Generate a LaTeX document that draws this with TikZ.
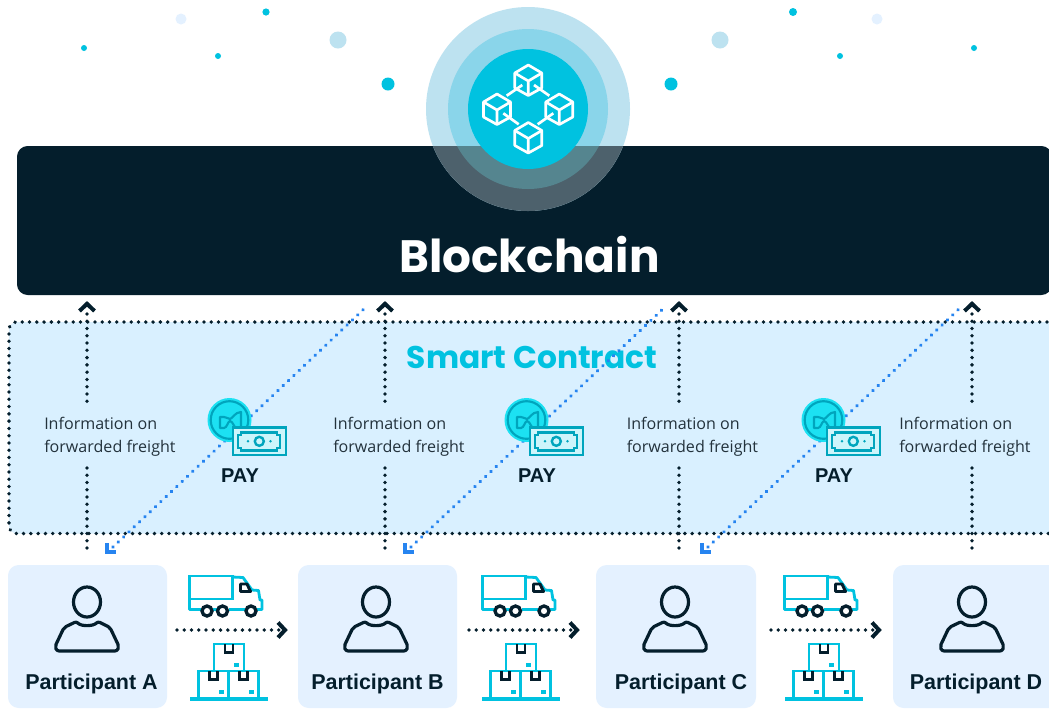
\documentclass[tikz,border=0pt]{standalone}
\usepackage{fontspec}
\setmainfont{Open Sans}
\setsansfont{Liberation Sans}
\newfontfamily\popf{Poppins}
\usetikzlibrary{calc,decorations.markings}
\definecolor{navy}{HTML}{041E2C}
\definecolor{cyanc}{HTML}{00C2E0}
\definecolor{pale}{HTML}{D9F0FF}
\definecolor{partbg}{HTML}{E4F1FF}
\definecolor{blued}{HTML}{2684F0}
\definecolor{tealc}{HTML}{00A5BD}
\definecolor{textc}{HTML}{23323C}
\definecolor{haloa}{HTML}{BDE2F0}
\definecolor{halob}{HTML}{8AD5EA}
\definecolor{haload}{HTML}{4D616C}
\definecolor{halobd}{HTML}{55858F}
\definecolor{payc}{HTML}{1CE1F2}
\definecolor{billc}{HTML}{CDF5FB}
\tikzset{
  x=0.75pt,y=-0.75pt,
  navydots/.style={decoration={markings,mark=between positions 0 and 1 step 5.45pt with {\fill[navy] (0,0) circle [radius=1.42pt];}},decorate},
  bluedots/.style={decoration={markings,mark=between positions 0 and 1 step 5.5pt with {\fill[blued] (0,0) circle [radius=1.42pt];}},decorate},
  chevron/.style={navy,line width=3pt,line join=miter},
  partbox/.style={fill=partbg,rounded corners=8pt,inner sep=0pt},
  partlabel/.style={font=\fontsize{16.1}{20}\selectfont\bfseries\sffamily,text=navy,inner sep=0pt},
  infolabel/.style={font=\fontsize{12.05}{17.2}\selectfont,text=textc,align=left,anchor=north west,inner sep=0pt},
  paylabel/.style={font=\fontsize{15}{18}\selectfont\bfseries\sffamily,text=navy,inner sep=0pt},
  cubeline/.style={white,line width=2pt,line join=round},
  cyanline/.style={cyanc,line width=2.1pt},
  darkline/.style={navy,line width=2.2pt},
}
\newcommand{\cube}[2]{%
  \begin{scope}[shift={(#1,#2)}]
    \draw[cubeline] (0,-15) -- (13.5,-7) -- (13.5,8) -- (0,15.5) -- (-13.5,8) -- (-13.5,-7) -- cycle;
    \draw[cubeline] (-13.5,-7) -- (0,1) -- (13.5,-7) (0,1) -- (0,15.5);
  \end{scope}}
\newcommand{\person}[1]{%
  \begin{scope}[shift={(#1,0)}]
    \draw[navy,line width=2.4pt] (0,602) ellipse (13.5 and 15);
    \draw[navy,line width=2.4pt,line join=round,rounded corners=1.6pt]
      (-10.5,621.5) .. controls (-6,626.5) and (6,626.5) .. (11,621.5)
      -- (23,627.5) -- (32,646.5) -- (30,651) -- (-30,651) -- (-32,646.5) -- (-23,627.5) -- cycle;
  \end{scope}}
\newcommand{\truck}[1]{%
  \begin{scope}[shift={(#1,0)}]
    \draw[cyanline] (189.5,576) rectangle (232.5,599);
    \draw[cyanline,line join=round] (232.5,577) -- (243,577.5) -- (252,590) -- (258.5,590.5) -- (260,600) -- (262,600) -- (262,609.5) -- (257,609.5)
      (245,609.5) -- (229,609.5) (217,609.5) -- (213,609.5) (201,609.5) -- (189.5,609.5) -- (189.5,599);
    \draw[darkline,line join=round] (240.5,584) -- (247,584) -- (250.5,591.5) -- (240.5,591.5) -- cycle;
    \foreach \wx in {207,222.5,251}{\draw[navy,line width=2.5pt] (\wx,611) circle (5);}
  \end{scope}}
\newcommand{\onebox}[2]{%
  \begin{scope}[shift={(#1,#2)}]
    \draw[cyanline] (0,0) rectangle (30,27);
    \draw[darkline] (11,0) -- (11,8.5) -- (19,8.5) -- (19,0);
    \fill[cyanc] (20,19) rectangle (25,23);
  \end{scope}}
\newcommand{\boxes}[1]{%
  \begin{scope}[shift={(#1,0)}]
    \onebox{214}{644}\onebox{198.5}{671}\onebox{228.7}{671}
    \fill[cyanc] (190,696.5) rectangle (268,701);
  \end{scope}}
\newcommand{\payicon}[1]{%
  \begin{scope}[shift={(#1,0)}]
    \fill[payc] (229.5,420) circle (22);
    \draw[tealc,line width=1.6pt] (229.5,420) circle (18.8);
    \draw[tealc,line width=1.6pt,line join=round] (220,417) -- (224,417) .. controls (227,417) and (228,419) .. (230,419)
       .. controls (232,419) and (235,412) .. (241,412) -- (241,430) -- (238,430) .. controls (235,430) and (233,421) .. (230,421) .. controls (228,421) and (227,428) .. (224,428) -- (220,428) -- cycle;
    \draw[tealc,line width=2.1pt,fill=billc] (233,427.5) rectangle (286,455);
    \draw[tealc,line width=1.6pt] (241,432.5) -- (277,432.5) -- (277,435) -- (280,435) -- (280,448) -- (277,448) -- (277,450.5) -- (241,450.5) -- (241,448) -- (238,448) -- (238,435) -- (241,435) -- cycle;
    \draw[tealc,line width=1.8pt] (259.3,441.3) circle (4.5);
    \fill[tealc] (248,441.3) circle (1.4) (270.5,441.3) circle (1.4);
  \end{scope}}
\begin{document}
\begin{tikzpicture}
\useasboundingbox (0,0) rectangle (1049,708);
\clip (0,0) rectangle (1049,708);
\fill[white] (0,0) rectangle (1049,708);
% ambient dots
\foreach \dx/\dy/\dr in {84/48/3,266/12/3.6,218/56/3,388/84/6.5,671/84/6.5,793/12/4,840/56/3,974/48/3}{\fill[cyanc] (\dx,\dy) circle (\dr);}
\foreach \dx/\dy in {181/19,877/19}{\fill[partbg] (\dx,\dy) circle (5.5);}
\foreach \dx/\dy in {338/40,720/40}{\fill[haloa] (\dx,\dy) circle (8.5);}
% blockchain bar and halo
\fill[navy,rounded corners=8pt] (17,146) rectangle (1052,295);
\fill[haloa] (528,109) circle (102);
\fill[halob] (528,109) circle (80);
\begin{scope}
  \clip (17,146) rectangle (1056,295);
  \fill[haload] (528,109) circle (102);
  \fill[halobd] (528,109) circle (80);
\end{scope}
\fill[cyanc] (528,109) circle (60);
\cube{528.3}{80}\cube{497}{109}\cube{559.3}{109}\cube{528.3}{137.5}
\draw[cubeline] (506.7,95.7) -- (522.3,85) (534,85) -- (549.3,95.7) (503.3,113.3) -- (518.7,124.3) (537.7,124.3) -- (553.3,113.3);
\node[font=\popf\bfseries\fontsize{34}{40}\selectfont,text=white,inner sep=0pt] (chain) at (529.5,255) {Blockchain};
% smart contract
\fill[pale,rounded corners=6pt] (9,322) rectangle (1070,533.5);
\path[navydots,rounded corners=6pt] (1070,533.5) -- (9,533.5) -- (9,322) -- (1070,322);
\node[font=\popf\bfseries\fontsize{23.5}{28}\selectfont,text=cyanc,inner sep=0pt] (sc) at (532,357) {Smart Contract};
% info dotted lines with gaps
\foreach \n/\lx in {1/87,2/385,3/679,4/972}{
  \coordinate (up\n) at (\lx,314);
  \coordinate (mida\n) at (\lx,403);
  \coordinate (midb\n) at (\lx,468);
  \coordinate (lo\n) at (\lx,551);
  \path[navydots] (up\n) -- (mida\n);
  \path[navydots] (midb\n) -- (lo\n);
  \draw[chevron] ($(up\n)+(-7.5,-3)$) -- ($(up\n)+(0,-10.2)$) -- ($(up\n)+(7.5,-3)$);
}
% blue diagonals
\foreach \n/\tx/\ty/\fx/\fy in {1/365/308/113/547,2/664/308/411/547,3/960/308/708/547}{
  \coordinate (dt\n) at (\tx,\ty);
  \coordinate (df\n) at (\fx,\fy);
  \path[bluedots] (df\n) -- (dt\n);
  \draw[blued,line width=3pt] ($(df\n)+(-6.3,-3.7)$) -- ($(df\n)+(-6.3,5)$) -- ($(df\n)+(3.3,5)$);
}
\payicon{0}\payicon{297}\payicon{594}
\foreach \n/\tx in {1/44,2/333,3/626.5,4/899}{
  \node[infolabel] (info\n) at (\tx,416.5) {Information on\\forwarded freight};
}
\foreach \n/\tx in {1/240,2/537,3/834}{\node[paylabel] (pay\n) at (\tx,476) {PAY};}
% participants
\foreach \n/\pa/\pb/\lab/\cx/\lx in {A/8/167/Participant A/87/91.5,B/298/457/Participant B/376/377.5,C/596/756/Participant C/675/681,D/893/1070/Participant D/972/976}{
  \fill[partbox] (\pa,565) rectangle (\pb,708);
  \person{\cx}
  \node[partlabel] (part\n) at (\lx,684) {\lab};
}
\truck{0}\truck{293}\truck{595}
\boxes{0}\boxes{292}\boxes{595}
\foreach \n/\ax in {1/0,2/292,3/594}{
  \coordinate (fa\n) at (177+\ax,630);
  \coordinate (fb\n) at (279+\ax,630);
  \path[navydots] (fa\n) -- (fb\n);
  \draw[navy,line width=3pt] ($(fb\n)+(-1,-7.5)$) -- ($(fb\n)+(6,0)$) -- ($(fb\n)+(-1,7.5)$);
}
\end{tikzpicture}
\end{document}
